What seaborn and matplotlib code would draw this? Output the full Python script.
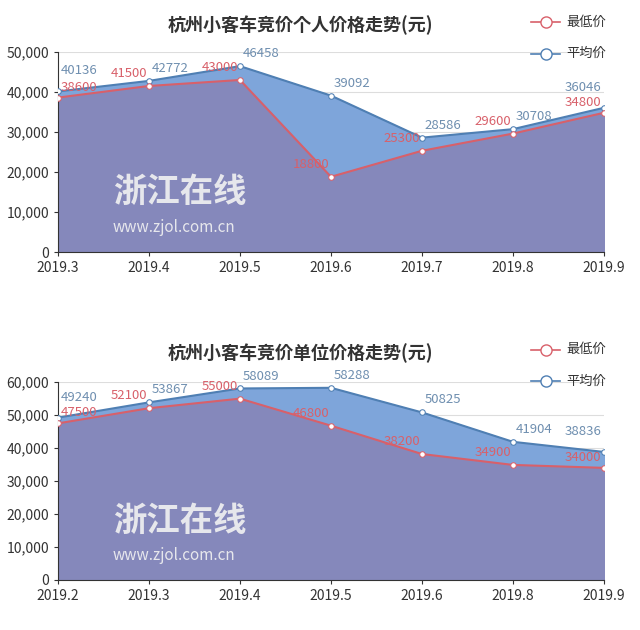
import matplotlib
matplotlib.use("Agg")
import matplotlib.pyplot as plt
from matplotlib import font_manager
import seaborn as sns
import pandas as pd

names = {f.name for f in font_manager.fontManager.ttflist}
cjk = [n for n in ["Noto Sans CJK SC", "Noto Sans CJK JP"] if n in names]
cjk += sorted(n for n in names if "Sans CJK" in n)
plt.rcParams["font.family"] = cjk[:1] + ["DejaVu Sans"]
plt.rcParams["axes.unicode_minus"] = False

top_months = ["2019.3", "2019.4", "2019.5", "2019.6", "2019.7", "2019.8", "2019.9"]
top_min = [38600, 41500, 43000, 18800, 25300, 29600, 34800]
top_avg = [40136, 42772, 46458, 39092, 28586, 30708, 36046]

bot_months = ["2019.2", "2019.3", "2019.4", "2019.5", "2019.6", "2019.8", "2019.9"]
bot_min = [47500, 52100, 55000, 46800, 38200, 34900, 34000]
bot_avg = [49240, 53867, 58089, 58288, 50825, 41904, 38836]

titles = ["杭州小客车竞价个人价格走势(元)", "杭州小客车竞价单位价格走势(元)"]
AVG_LINE, MIN_LINE = "#4f7fb3", "#d8606a"
AVG_FILL, MIN_FILL = "#7ea5da", "#8588bb"

fig = plt.figure(figsize=(6.4, 6.3), dpi=100)
specs = [
    (0.6, 0.3175, top_months, top_min, top_avg, 50000, titles[0], 0.975),
    (0.0794, 0.314, bot_months, bot_min, bot_avg, 60000, titles[1], 0.455),
]
for bottom, height, months, mn, av, ymax, title, ty in specs:
    ax = fig.add_axes([0.0906, bottom, 0.853, height])
    x = list(range(len(months)))
    ax.fill_between(x, 0, av, color=AVG_FILL, zorder=1)
    ax.fill_between(x, 0, mn, color=MIN_FILL, zorder=2)
    df = pd.DataFrame({"x": x, "min": mn, "avg": av})
    sns.lineplot(data=df, x="x", y="avg", color=AVG_LINE, lw=1.5, ax=ax, zorder=3,
                 marker="o", markersize=4, markerfacecolor="white", markeredgecolor=AVG_LINE)
    sns.lineplot(data=df, x="x", y="min", color=MIN_LINE, lw=1.5, ax=ax, zorder=4,
                 marker="o", markersize=4, markerfacecolor="white", markeredgecolor=MIN_LINE)
    n = len(x)
    for i, (xi, a, m) in enumerate(zip(x, av, mn)):
        if i == 0:
            ax.text(xi + 0.03, a + ymax * 0.07, str(a), color="#6f8fb0", fontsize=9.5, ha="left", va="bottom", zorder=5)
            ax.text(xi + 0.03, m + ymax * 0.02, str(m), color="#d8606a", fontsize=9.5, ha="left", va="bottom", zorder=5)
        elif i == n - 1:
            ax.text(xi - 0.03, a + ymax * 0.07, str(a), color="#6f8fb0", fontsize=9.5, ha="right", va="bottom", zorder=5)
            ax.text(xi - 0.03, m + ymax * 0.02, str(m), color="#d8606a", fontsize=9.5, ha="right", va="bottom", zorder=5)
        else:
            ax.text(xi + 0.03, a + ymax * 0.03, str(a), color="#6f8fb0", fontsize=9.5, ha="left", va="bottom", zorder=5)
            ax.text(xi - 0.02, m + ymax * 0.03, str(m), color="#d8606a", fontsize=9.5, ha="right", va="bottom", zorder=5)
    ax.set_xlim(0, 6)
    ax.set_ylim(0, ymax)
    ax.set_yticks(range(0, ymax + 1, 10000))
    ax.set_yticklabels([f"{v:,}" for v in range(0, ymax + 1, 10000)])
    ax.set_xticks(x)
    ax.set_xticklabels(months)
    ax.grid(axis="y", color="#dddddd", lw=0.8)
    ax.set_axisbelow(True)
    for s in ["top", "right"]:
        ax.spines[s].set_visible(False)
    ax.spines["left"].set_color("#333333")
    ax.spines["bottom"].set_color("#333333")
    ax.tick_params(labelsize=10, colors="#333333", length=3)
    ax.set_xlabel("")
    ax.set_ylabel("")
    ax.text(0.1, 0.25, "浙江在线", transform=ax.transAxes, fontsize=24, color="#f2f2f2",
            fontweight="bold", alpha=0.9, zorder=6)
    ax.text(0.1, 0.1, "www.zjol.com.cn", transform=ax.transAxes, fontsize=11, color="#f2f2f2",
            alpha=0.9, zorder=6)
    fig.text(0.47, ty, title, fontsize=13, fontweight="bold", color="#333333", ha="center", va="top")
    lt = ty - 0.01
    for i, (lab, c) in enumerate([("最低价", MIN_LINE), ("平均价", AVG_LINE)]):
        yy = lt - i * 0.05
        fig.lines.append(plt.Line2D([0.83, 0.875], [yy, yy], color=c, lw=1.2, transform=fig.transFigure))
        fig.lines.append(plt.Line2D([0.8525], [yy], marker="o", ms=8, mfc="white", mec=c, transform=fig.transFigure))
        fig.text(0.885, yy, lab, fontsize=9.5, color="#333333", va="center")

fig.savefig("out.png", dpi=100, facecolor="white")
